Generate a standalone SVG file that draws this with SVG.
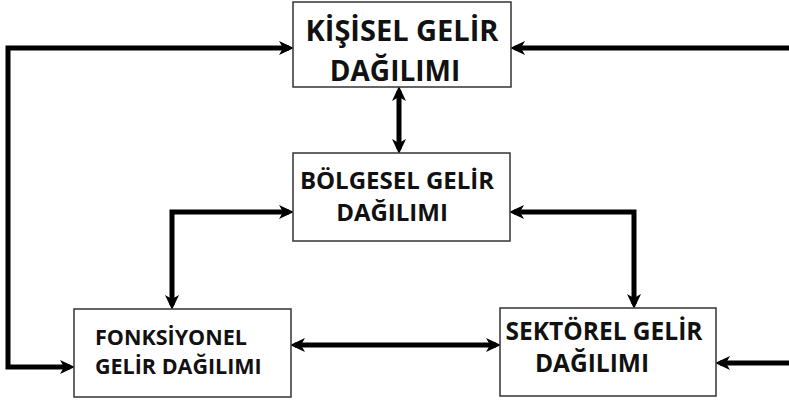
<svg xmlns="http://www.w3.org/2000/svg" width="789" height="402" viewBox="0 0 789 402">
<style>
.box{fill:#fff;stroke:#333;stroke-width:1.5}
.t{font-family:"Open Sans","Liberation Sans",sans-serif;font-weight:bold;fill:#111}
.c{fill:none;stroke:#000;stroke-width:5}
.ar{marker-end:url(#ah)}
.bi{marker-start:url(#ah);marker-end:url(#ah)}
</style>
<defs>
<marker id="ah" markerUnits="userSpaceOnUse" markerWidth="16" markerHeight="16" refX="10" refY="8" orient="auto-start-reverse" viewBox="0 0 16 16">
<path d="M0,1 L15,8 L0,15 L4,8 z" fill="#000"/>
</marker>
</defs>
<rect width="789" height="402" fill="#fff"/>
<g id="connectors">
<path class="c bi" d="M289 48 H8 V367 H70"/>
<path class="c ar" d="M789 48 H515"/>
<path class="c ar" d="M789 363 H720"/>
<path class="c bi" d="M399 91 V149"/>
<path class="c bi" d="M289 212 H172 V305"/>
<path class="c bi" d="M514 212 H634 V304"/>
<path class="c bi" d="M295 345 H496"/>
</g>
<g id="kisisel">
<rect class="box" x="293" y="2" width="218" height="85"/>
<text class="t" x="402" y="41" font-size="29" text-anchor="middle">KİŞİSEL GELİR</text>
<text class="t" x="395" y="81" font-size="28" text-anchor="middle">DAĞILIMI</text>
</g>
<g id="bolgesel">
<rect class="box" x="293" y="153" width="217" height="88"/>
<text class="t" x="397" y="189" font-size="24" text-anchor="middle">BÖLGESEL GELİR</text>
<text class="t" x="392" y="221" font-size="24" text-anchor="middle">DAĞILIMI</text>
</g>
<g id="fonksiyonel">
<rect class="box" x="74" y="309" width="217" height="88"/>
<text class="t" x="95" y="345" font-size="21.5">FONKSİYONEL</text>
<text class="t" x="95" y="374" font-size="21.5">GELİR DAĞILIMI</text>
</g>
<g id="sektorel">
<rect class="box" x="500" y="308" width="216" height="88"/>
<text class="t" x="604" y="340" font-size="24.5" text-anchor="middle">SEKTÖREL GELİR</text>
<text class="t" x="592" y="372" font-size="24.5" text-anchor="middle">DAĞILIMI</text>
</g>
</svg>
